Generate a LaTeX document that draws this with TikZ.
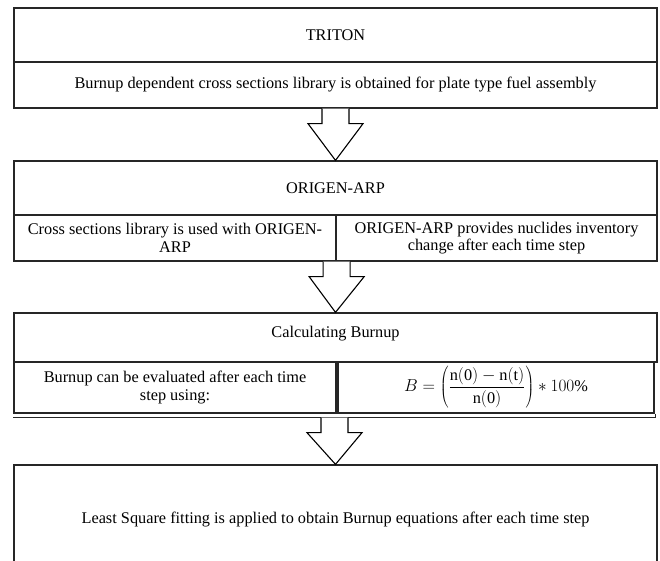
\documentclass[tikz,border=0pt]{standalone}
\usepackage{fontspec}
\setmainfont{Liberation Serif}
\usetikzlibrary{calc}
\tikzset{
  boxline/.style={draw=black!85, line width=1.3pt},
  cell/.style={boxline, rectangle, inner sep=0pt, align=center,
    font=\fontsize{16.3}{17.5}\selectfont},
  celltext/.style={inner sep=0pt, align=center, font=\fontsize{16.3}{17.5}\selectfont},
  arrowline/.style={draw=black, fill=white, line width=1.1pt, line join=miter},
}
\newcommand\flowarrow[2]{%
  \path (#1) coordinate (fa-s) (#2) coordinate (fa-e);
  \filldraw[arrowline] ($(fa-s)+(-13.5,0)$) -- ($(fa-s)+(-13.5,15)$) -- ($(fa-s)+(-27.5,15)$)
    -- (fa-e) -- ($(fa-s)+(27.5,15)$) -- ($(fa-s)+(13.5,15)$) -- ($(fa-s)+(13.5,0)$);}
\begin{document}
\begin{tikzpicture}[x=1pt, y=-1pt]
  \useasboundingbox (0,0) rectangle (660,560);
  \clip (0,0) rectangle (660,560);
  % Box 1
  \node[cell, minimum width=643pt, minimum height=54pt] (b1a) at (335.5,35) {TRITON};
  \node[cell, minimum width=643pt, minimum height=46pt] (b1b) at (335.5,85)
    {Burnup dependent cross sections library is obtained for plate type fuel assembly};
  % Box 2
  \node[cell, minimum width=643pt, minimum height=54pt] (b2a) at (335.5,188) {ORIGEN-ARP};
  \node[cell, minimum width=322pt, minimum height=46pt] (b2l) at (175,238)
    {Cross sections library is used with ORIGEN-\\ARP};
  \node[cell, minimum width=321pt, minimum height=46pt] (b2r) at (496.5,238)
    {ORIGEN-ARP provides nuclides inventory\\change after each time step};
  % Box 3
  \node[cell, minimum width=643pt, minimum height=49pt] (b3a) at (335.5,337.5) {};
  \begin{scope}
    \clip (14,313) rectangle (657,343.5);
    \node[celltext] (b3at) at (335.5,334) {Calculating Burnup};
  \end{scope}
  \node[cell, minimum width=322pt, minimum height=51pt] (b3l) at (175,387.5)
    {Burnup can be evaluated after each time\\step using:};
  \node[cell, minimum width=316pt, minimum height=51pt] (b3r) at (496,387.5)
    {$\displaystyle B=\left(\frac{\mathrm{n(0)}-\mathrm{n(t)}}{\mathrm{n(0)}}\right)*100\%$};
  \draw[boxline] ($(b3l.south west)+(0,4)$) coordinate (b3d)
    -- ($(b3r.south east)+(1,4)$) coordinate (b3e) -- ($(b3r.south east)+(1,0)$);
  \coordinate (b3bot) at ($(b3d)!0.5!(b3e)$);
  % Box 4
  \node[cell, minimum width=643pt, minimum height=110pt] (b4) at (335.5,520)
    {Least Square fitting is applied to obtain Burnup equations after each time step};
  % Arrows
  \flowarrow{b1b.south}{b2a.north}
  \flowarrow{b2l.south east}{b3a.north}
  \flowarrow{b3bot}{b4.north}
\end{tikzpicture}
\end{document}
